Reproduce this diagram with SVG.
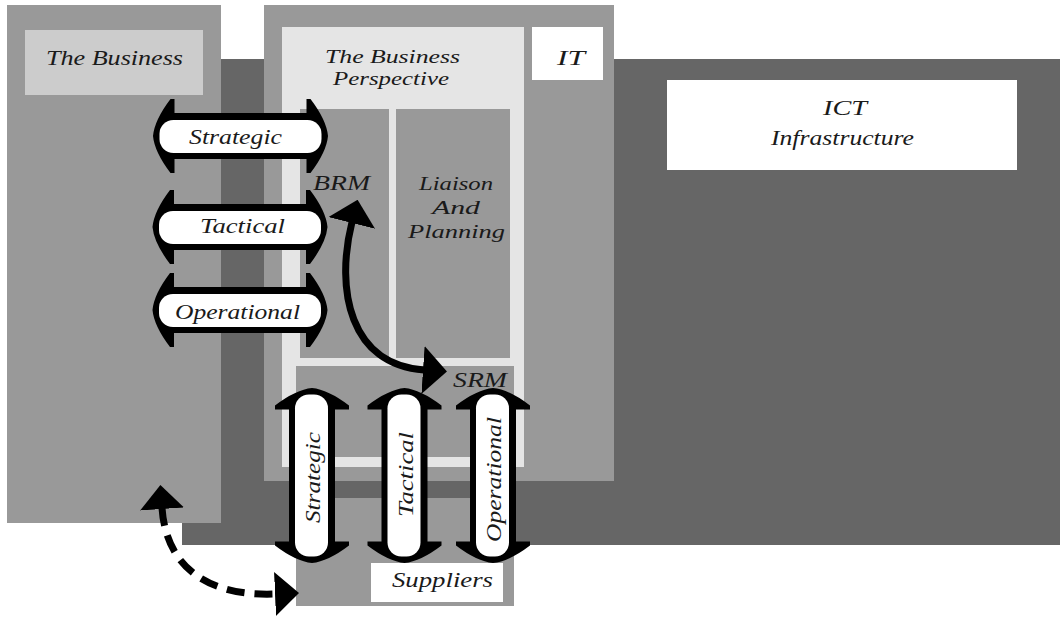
<svg xmlns="http://www.w3.org/2000/svg" xmlns:xlink="http://www.w3.org/1999/xlink" width="1060" height="619" viewBox="0 0 1060 619">
  <style>
    .dark { fill: #666666; }
    .mid { fill: #999999; }
    .pale { fill: #cccccc; }
    .light { fill: #e5e5e5; }
    .white { fill: #ffffff; }
    .lbl { font-family: "Liberation Serif", "DejaVu Serif", serif; font-style: italic; font-size: 22px; fill: #1a1a1a; }
    .sm { font-size: 19px; }
    .curve { fill: none; stroke: #000; stroke-width: 7; }
  </style>
  <defs>
    <path id="dbl" d="M -87.5,0 Q -86,-16 -70,-37 L -66,-37 L -66,-23 L 66,-23 L 66,-37 L 70,-37 Q 86,-16 87.5,0 Q 86,16 70,37 L 66,37 L 66,23 L -66,23 L -66,37 L -70,37 Q -86,16 -87.5,0 Z" fill="#000"/>
    <rect id="dblin" x="-81" y="-16" width="162" height="33" rx="14" fill="#fff"/>
    <marker id="head" markerUnits="userSpaceOnUse" viewBox="0 0 24 48" markerWidth="24" markerHeight="48" refX="1" refY="24" orient="auto-start-reverse">
      <path d="M0,0 L24,24 L0,48 Z" fill="#000"/>
    </marker>
    <marker id="headS" markerUnits="userSpaceOnUse" viewBox="0 0 24 44" markerWidth="24" markerHeight="44" refX="1" refY="22" orient="auto-start-reverse">
      <path d="M0,0 L24,22 L0,44 Z" fill="#000"/>
    </marker>
  </defs>

  <rect width="1060" height="619" fill="#ffffff"/>

  <g id="ict-background">
    <rect class="dark" x="182" y="59" width="878" height="486"/>
  </g>

  <g id="the-business">
    <rect class="mid" x="7" y="5" width="214" height="518"/>
    <rect class="pale" x="25" y="30" width="178" height="65"/>
    <text class="lbl" x="46" y="65" textLength="137" lengthAdjust="spacingAndGlyphs">The Business</text>
  </g>

  <g id="it">
    <rect class="mid" x="264" y="5" width="350" height="476"/>
    <rect class="white" x="532" y="27" width="71" height="53"/>
    <text class="lbl" x="557" y="65" textLength="28" lengthAdjust="spacingAndGlyphs">IT</text>
  </g>

  <g id="business-perspective">
    <rect class="light" x="282" y="27" width="242" height="440"/>
    <text class="lbl sm" x="325" y="63" textLength="135" lengthAdjust="spacingAndGlyphs">The Business</text>
    <text class="lbl sm" x="333" y="85" textLength="116" lengthAdjust="spacingAndGlyphs">Perspective</text>
  </g>

  <g id="brm">
    <rect class="mid" x="300" y="109" width="89" height="249"/>
    <text class="lbl" x="313" y="190" textLength="57" lengthAdjust="spacingAndGlyphs">BRM</text>
  </g>

  <g id="liaison">
    <rect class="mid" x="396" y="109" width="114" height="249"/>
    <text class="lbl sm" x="419" y="190" textLength="74" lengthAdjust="spacingAndGlyphs">Liaison</text>
    <text class="lbl sm" x="432" y="214" textLength="48" lengthAdjust="spacingAndGlyphs">And</text>
    <text class="lbl sm" x="408" y="238" textLength="97" lengthAdjust="spacingAndGlyphs">Planning</text>
  </g>

  <g id="srm">
    <rect class="mid" x="296" y="366" width="218" height="91"/>
    <text class="lbl" x="453" y="387" textLength="54" lengthAdjust="spacingAndGlyphs">SRM</text>
  </g>

  <g id="suppliers">
    <rect class="mid" x="296" y="498" width="218" height="108"/>
    <rect class="white" x="371" y="563" width="132" height="39"/>
    <text class="lbl" x="392" y="587" textLength="101" lengthAdjust="spacingAndGlyphs">Suppliers</text>
  </g>

  <g id="ict-infrastructure">
    <rect class="white" x="667" y="80" width="350" height="90"/>
    <text class="lbl" x="823" y="115" textLength="44" lengthAdjust="spacingAndGlyphs">ICT</text>
    <text class="lbl" x="771" y="145" textLength="143" lengthAdjust="spacingAndGlyphs">Infrastructure</text>
  </g>

  <g id="connectors">
    <g id="h-strategic">
      <use xlink:href="#dbl" transform="translate(240.5,136)"/>
      <use xlink:href="#dblin" transform="translate(240.5,136)"/>
      <text class="lbl" x="189" y="144" textLength="93" lengthAdjust="spacingAndGlyphs">Strategic</text>
    </g>
    <g id="h-tactical">
      <use xlink:href="#dbl" transform="translate(240,227)"/>
      <use xlink:href="#dblin" transform="translate(240,227)"/>
      <text class="lbl" x="200" y="233" textLength="85" lengthAdjust="spacingAndGlyphs">Tactical</text>
    </g>
    <g id="h-operational">
      <use xlink:href="#dbl" transform="translate(240,310)"/>
      <use xlink:href="#dblin" transform="translate(240,310)"/>
      <text class="lbl" x="175" y="319" textLength="125" lengthAdjust="spacingAndGlyphs">Operational</text>
    </g>
    <g id="v-strategic">
      <use xlink:href="#dbl" transform="translate(312,475.5) rotate(90)"/>
      <use xlink:href="#dblin" transform="translate(312,475.5) rotate(90)"/>
      <text class="lbl" transform="translate(320,523) rotate(-90)" x="0" y="0" textLength="91" lengthAdjust="spacingAndGlyphs">Strategic</text>
    </g>
    <g id="v-tactical">
      <use xlink:href="#dbl" transform="translate(404.5,475.5) rotate(90)"/>
      <use xlink:href="#dblin" transform="translate(404.5,475.5) rotate(90)"/>
      <text class="lbl" transform="translate(413,517) rotate(-90)" x="0" y="0" textLength="85" lengthAdjust="spacingAndGlyphs">Tactical</text>
    </g>
    <g id="v-operational">
      <use xlink:href="#dbl" transform="translate(493,475.5) rotate(90)"/>
      <use xlink:href="#dblin" transform="translate(493,475.5) rotate(90)"/>
      <text class="lbl" transform="translate(501,542) rotate(-90)" x="0" y="0" textLength="125" lengthAdjust="spacingAndGlyphs">Operational</text>
    </g>
    <path id="brm-srm" class="curve" d="M 352,222 C 335,290 350,365 424,370" marker-start="url(#head)" marker-end="url(#head)"/>
    <path id="business-suppliers" class="curve" d="M 162,508 C 166,565 205,597 276,594" stroke-dasharray="18 10" marker-start="url(#headS)" marker-end="url(#headS)"/>
  </g>
</svg>
